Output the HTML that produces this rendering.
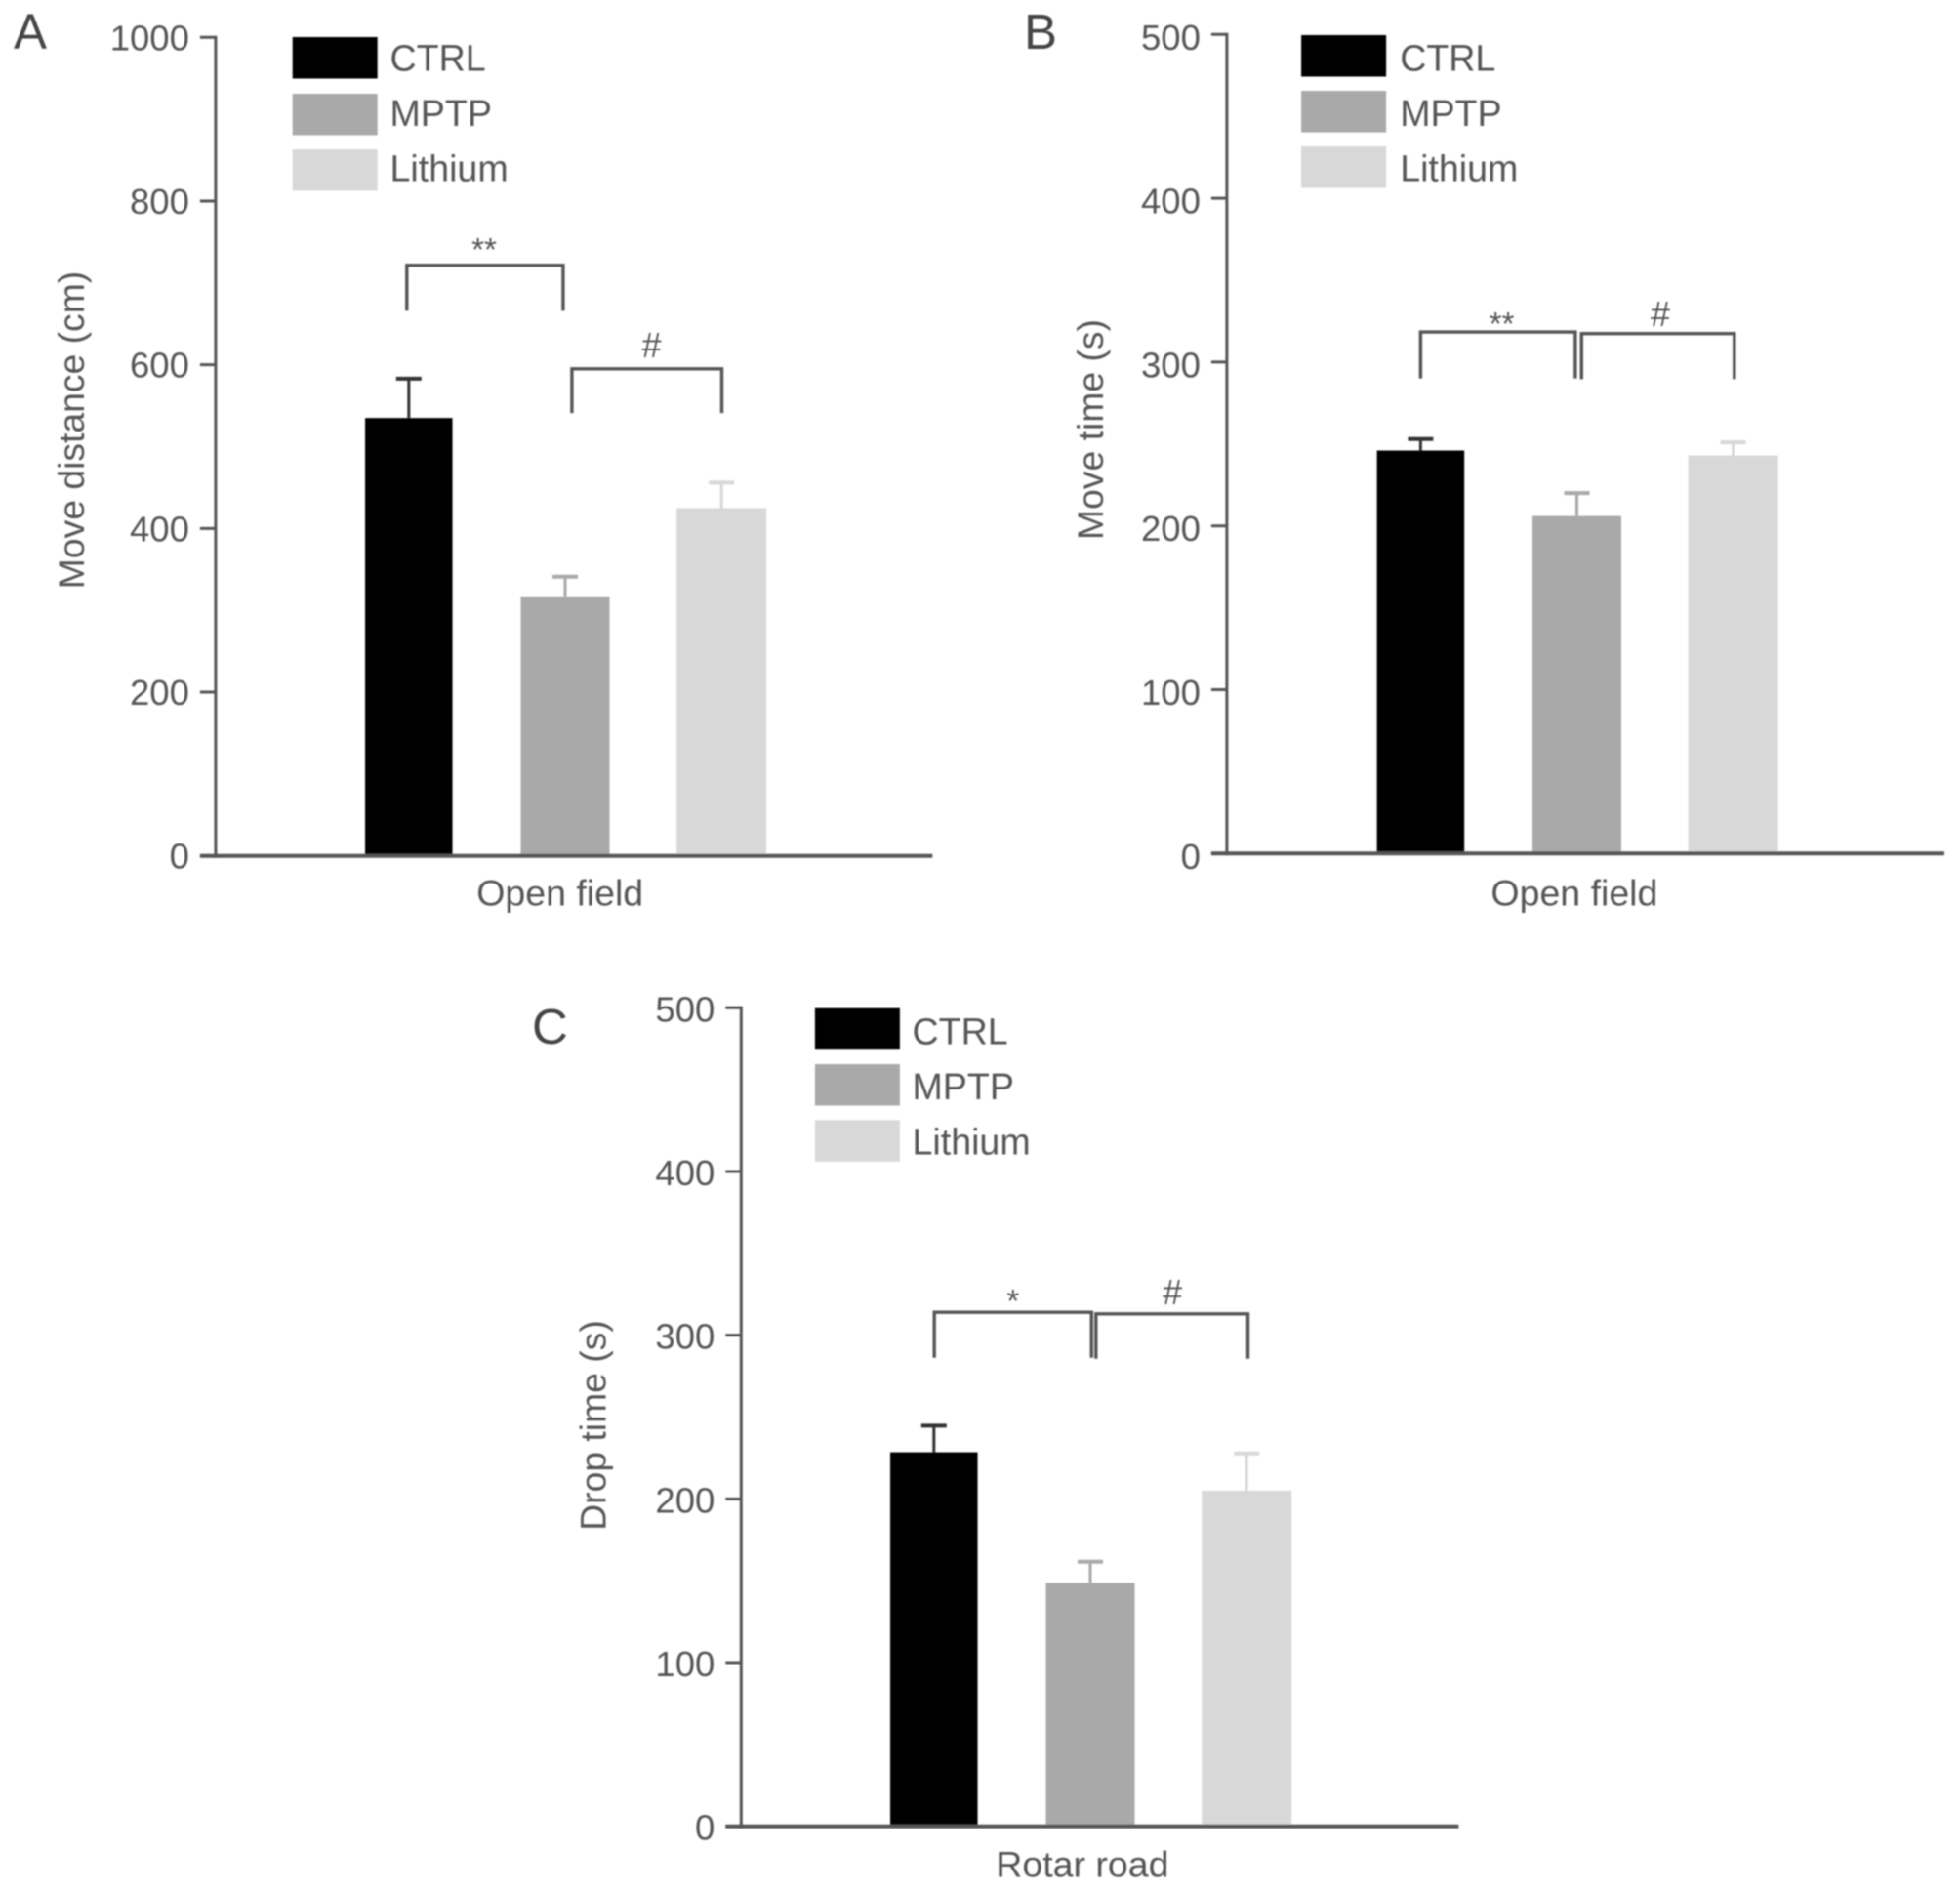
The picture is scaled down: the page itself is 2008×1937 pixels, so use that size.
<!DOCTYPE html>
<html lang="en">
<head>
<meta charset="utf-8">
<title>Behaviour bar charts</title>
<style>
  html, body { margin: 0; padding: 0; background: #fff; }
  svg { display: block; }
  text { font-family: "Liberation Sans", sans-serif; fill: #555; }
</style>
</head>
<body>
<svg id="figure" xmlns="http://www.w3.org/2000/svg" width="2008" height="1937" viewBox="0 0 2008 1937">
  <defs>
    <filter id="soft" x="-2%" y="-2%" width="104%" height="104%">
      <feGaussianBlur stdDeviation="0.7"></feGaussianBlur>
    </filter>
  </defs>
  <rect width="2008" height="1937" fill="#ffffff"></rect>
  <g id="root" filter="url(#soft)"></g>
</svg>
<script>
// Data
const groupNames = ['CTRL', 'MPTP', 'Lithium'];

const meansA = [535, 316, 425];
const errorTopsA = [583, 341, 456];
const tickLabelsA = [0, 200, 400, 600, 800, 1000];

const meansB = [246, 206, 243];
const errorTopsB = [253, 220, 251];
const tickLabelsB = [0, 100, 200, 300, 400, 500];

const meansC = [228.5, 148.7, 205];
const errorTopsC = [244.7, 161.6, 227.8];
const tickLabelsC = [0, 100, 200, 300, 400, 500];

// Significance brackets: bar indexes and levels in axis units
const bracketsA = [
  { from: 0, to: 1, top: 721.6, bottom: 666, mark: '**' },
  { from: 1, to: 2, top: 595, bottom: 541, mark: '#' }
];
const bracketsB = [
  { from: 0, to: 1, top: 318.4, bottom: 290, mark: '**' },
  { from: 1, to: 2, top: 317.4, bottom: 289.6, mark: '#' }
];
const bracketsC = [
  { from: 0, to: 1, top: 314, bottom: 286.2, mark: '*' },
  { from: 1, to: 2, top: 313, bottom: 285.6, mark: '#' }
];

// Styling and layout
const barFills = ['#000000', '#a9a9a9', '#d8d8d8'];
const errorStrokes = ['#333333', '#a9a9a9', '#d8d8d8'];
const barWidths = [89.5, 91, 92];
const AXIS = '#555555';

const panels = [
  { id: 'a', letter: 'A', letterX: 14, letterY: 50, means: meansA, errs: errorTopsA, ticks: tickLabelsA, brackets: bracketsA,
    axisX: 220.9, right: 955.3, y0: 876.7, yTop: 38.3, first: 418.8, step: 160.2, labelDy: 13,
    title: 'Move distance (cm)', titleX: 86, titleY: 440.5, xLabel: 'Open field', xLabelX: 573.7, xLabelY: 927.7,
    legendX: 299.7, legendTextX: 399.5, legendYs: [38, 96, 153], legendBase: [72.7, 129, 185.7],
    bracketInsetL: [-2, 6.9], bracketInsetR: [-2.1, 0.3], markX: [496, 667.5], markY: [267, 366] },
  { id: 'b', letter: 'B', letterX: 1049, letterY: 50, means: meansB, errs: errorTopsB, ticks: tickLabelsB, brackets: bracketsB,
    axisX: 1256.9, right: 1992, y0: 874.3, yTop: 35.3, first: 1455.4, step: 160.1, labelDy: 15.5,
    title: 'Move time (s)', titleX: 1130, titleY: 440, xLabel: 'Open field', xLabelX: 1612.9, xLabelY: 927.7,
    legendX: 1333.1, legendTextX: 1434.2, legendYs: [36, 93, 150], legendBase: [72.7, 129, 185.7],
    bracketInsetL: [0, 4.8], bracketInsetR: [-1.6, 1.2], markX: [1538.6, 1701], markY: [343, 334] },
  { id: 'c', letter: 'C', letterX: 545, letterY: 1069, means: meansC, errs: errorTopsC, ticks: tickLabelsC, brackets: bracketsC,
    axisX: 759.3, right: 1494.4, y0: 1870.7, yTop: 1032.3, first: 956.8, step: 160.2, labelDy: 14,
    title: 'Drop time (s)', titleX: 620.5, titleY: 1460, xLabel: 'Rotar road', xLabelX: 1108.9, xLabelY: 1922.7,
    legendX: 834.9, legendTextX: 934.5, legendYs: [1032.7, 1090, 1147.3], legendBase: [1069.3, 1126, 1182.3],
    bracketInsetL: [0.4, 5.8], bracketInsetR: [1.3, 1.3], markX: [1037.8, 1201.1], markY: [1344, 1336] }
];

const SVGNS = 'http://www.w3.org/2000/svg';
const root = document.getElementById('root');

function make(tag, attrs, parent) {
  const node = document.createElementNS(SVGNS, tag);
  for (const key in attrs) node.setAttribute(key, attrs[key]);
  parent.appendChild(node);
  return node;
}

function drawPanel(p) {
  const g = make('g', {}, root);
  
  

  const vMax = p.ticks[p.ticks.length - 1];
  const yScale = function (v) { return p.y0 - v * (p.y0 - p.yTop) / vMax; };
  const xScale = function (i) { return p.first + i * p.step; };

  const letter = make('text', { x: p.letterX, y: p.letterY, 'font-size': 51, style: 'fill:#444' }, g);
  letter.textContent = p.letter;
  
  

  // bars and error bars
  p.means.forEach(function (v, i) {
    const cx = xScale(i);
    const top = yScale(v);
    const capY = yScale(p.errs[i]);
    const w = barWidths[i];

    const stem = make('line', { x1: cx, x2: cx, y1: top, y2: capY, stroke: errorStrokes[i], 'stroke-width': 3 }, g);
    
    

    const cap = make('line', { x1: cx - 13, x2: cx + 13, y1: capY, y2: capY, stroke: errorStrokes[i], 'stroke-width': 4 }, g);
    
    

    const bar = make('rect', { x: cx - w / 2, y: top, width: w, height: p.y0 - top, fill: barFills[i] }, g);
    
    
  });

  // y axis
  const yAxis = make('line', { x1: p.axisX, x2: p.axisX, y1: p.yTop - 1.5, y2: p.y0 + 2, stroke: AXIS, 'stroke-width': 3 }, g);
  
  

  // x axis
  const xAxis = make('line', { x1: p.axisX - 16, x2: p.right, y1: p.y0, y2: p.y0, stroke: AXIS, 'stroke-width': 4 }, g);
  
  

  // ticks and labels
  p.ticks.forEach(function (t) {
    const y = yScale(t);
    const tick = make('line', { x1: p.axisX - 16, x2: p.axisX, y1: y, y2: y, stroke: AXIS, 'stroke-width': 3 }, g);
    
    

    const label = make('text', { x: p.axisX - 27, y: y + p.labelDy, 'font-size': 36.5, 'text-anchor': 'end' }, g);
    label.textContent = String(t);
    
    
  });

  // axis titles
  const title = make('text', {
    x: p.titleX, y: p.titleY, 'font-size': 37.3, 'text-anchor': 'middle',
    transform: 'rotate(-90 ' + p.titleX + ' ' + p.titleY + ')'
  }, g);
  title.textContent = p.title;
  
  

  const xLabel = make('text', { x: p.xLabelX, y: p.xLabelY, 'font-size': 37.5, 'text-anchor': 'middle' }, g);
  xLabel.textContent = p.xLabel;
  
  

  // legend
  groupNames.forEach(function (name, i) {
    const swatch = make('rect', { x: p.legendX, y: p.legendYs[i], width: 87, height: 42.5, fill: barFills[i] }, g);
    
    

    const entry = make('text', { x: p.legendTextX, y: p.legendBase[i], 'font-size': 37.6 }, g);
    entry.textContent = name;
    
    
  });

  // significance brackets
  p.brackets.forEach(function (b, k) {
    const left = xScale(b.from) + p.bracketInsetL[k];
    const right = xScale(b.to) + p.bracketInsetR[k];
    const yT = yScale(b.top);
    const yB = yScale(b.bottom);
    const path = make('path', {
      d: 'M' + left + ' ' + yB + 'V' + yT + 'H' + right + 'V' + yB,
      fill: 'none', stroke: AXIS, 'stroke-width': 3.4
    }, g);
    
    

    const mark = make('text', { x: p.markX[k], y: p.markY[k], 'font-size': b.mark === '#' ? 36 : 33, 'text-anchor': 'middle' }, g);
    mark.textContent = b.mark;
    
    
  });
}

panels.forEach(drawPanel);
</script>
</body>
</html>
